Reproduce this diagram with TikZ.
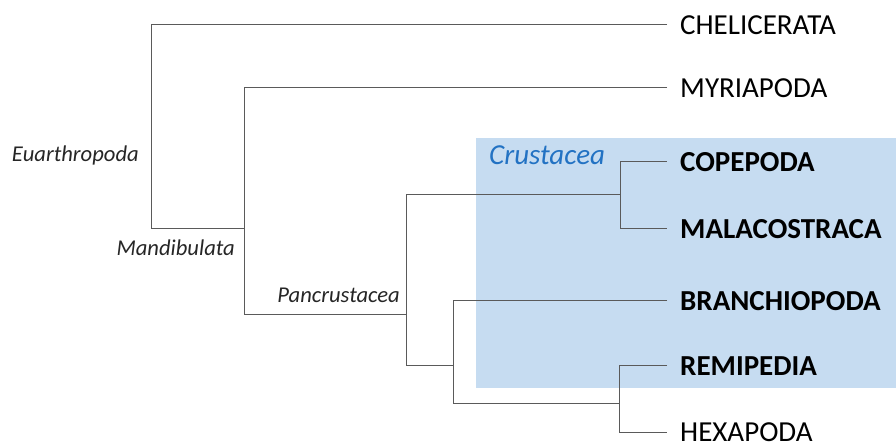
\documentclass[tikz,border=0pt]{standalone}
\usepackage{fontspec}
\setmainfont{Carlito}
\definecolor{boxblue}{HTML}{C6DCF1}
\definecolor{crblue}{HTML}{2272C3}
\definecolor{branch}{HTML}{5A5A5A}
\begin{document}
\begin{tikzpicture}[x=1pt,y=-1pt,
  taxon/.style={anchor=west,inner xsep=0pt,inner ysep=0pt,text height=20pt,text depth=0pt,font=\fontsize{29}{29}\selectfont,text=black},
  boldtaxon/.style={taxon,font=\fontsize{29}{29}\selectfont\bfseries},
  clade/.style={anchor=base east,inner sep=0pt,font=\fontsize{22.6}{22.6}\selectfont\itshape,text=black!85},
  br/.style={draw=branch,line width=1pt}]
\useasboundingbox (0,0) rectangle (896,446);
\fill[boxblue] (476,138) rectangle (896,388);
% leaf tips
\coordinate (tchel) at (667,25);
\coordinate (tmyr) at (667,88);
\coordinate (tcop) at (667,162);
\coordinate (tmal) at (667,229);
\coordinate (tbra) at (667,300);
\coordinate (trem) at (667,365);
\coordinate (thex) at (667,432);
% leaves
\node[taxon] (chel) at (680,25) {CHELICERATA};
\node[taxon] (myr) at (680,88) {MYRIAPODA};
\node[boldtaxon] (cop) at (680,162) {COPEPODA};
\node[boldtaxon] (mal) at (680,229) {MALACOSTRACA};
\node[boldtaxon] (bra) at (680,300) {BRANCHIOPODA};
\node[boldtaxon] (rem) at (680,365) {REMIPEDIA};
\node[taxon] (hex) at (680,431) {HEXAPODA};
% internal nodes
\coordinate (eu) at (151,229);
\coordinate (ma) at (244,314);
\coordinate (pa) at (406,365);
\coordinate (cr) at (620,229);
\coordinate (bh) at (453,403);
\coordinate (rh) at (619,432);
% branches
\draw[br] (tchel) -| (eu) -- (244,229);
\draw[br] (tmyr) -| (ma) -- (406,314);
\draw[br] (cr |- tcop) -- (tcop);
\draw[br] (cr |- tcop) -- (cr) -- (tmal);
\draw[br] (pa |- 0,195) -- (cr |- 0,195);
\draw[br] (pa |- 0,195) -- (pa) -- (bh |- pa);
\draw[br] (tbra) -| (bh) -- (rh |- bh);
\draw[br] (trem) -| (rh) -- (thex);
% clade labels
\node[clade] (euL) at (139,162) {Euarthropoda};
\node[clade] (maL) at (235,255) {Mandibulata};
\node[clade] (paL) at (400,302) {Pancrustacea};
\node[anchor=base west,inner sep=0pt,font=\fontsize{29}{29}\selectfont\itshape,text=crblue] (crL) at (489,165) {Crustacea};
\end{tikzpicture}
\end{document}
